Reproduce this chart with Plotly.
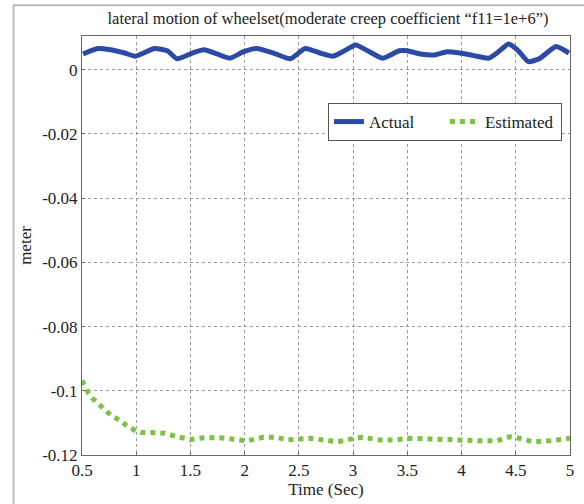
import plotly.graph_objects as go

# Actual lateral displacement (m)
t_actual = [0.51, 0.646, 0.765, 0.893, 0.994, 1.168, 1.287, 1.378, 1.534, 1.625, 1.744, 1.863,
            1.991, 2.110, 2.265, 2.421, 2.558, 2.695, 2.814, 2.905, 3.024, 3.134, 3.271, 3.427,
            3.5, 3.619, 3.747, 3.866, 3.985, 4.113, 4.25, 4.341, 4.433, 4.524, 4.616, 4.716,
            4.872, 4.99]
y_actual = [0.0049, 0.0066, 0.0062, 0.0052, 0.0042, 0.0066, 0.0059, 0.0034, 0.0054, 0.0062, 0.0049, 0.0036,
            0.0056, 0.0066, 0.0052, 0.0034, 0.0066, 0.0052, 0.0042, 0.0056, 0.0077, 0.0059, 0.0036, 0.0059,
            0.0059, 0.0049, 0.0046, 0.0056, 0.0052, 0.0044, 0.0036, 0.0056, 0.0080, 0.0059, 0.0025, 0.0034,
            0.0072, 0.0052]

# Estimated lateral displacement (m)
t_est = [0.5, 0.555, 0.601, 0.656, 0.710, 0.765, 0.848, 0.921, 0.994, 1.04, 1.131, 1.259, 1.378,
         1.497, 1.625, 1.771, 1.927, 2.018, 2.174, 2.293, 2.384, 2.476, 2.604, 2.722, 2.860,
         2.969, 3.088, 3.244, 3.390, 3.518, 3.710, 3.866, 4.021, 4.204, 4.323, 4.442, 4.533,
         4.661, 4.808, 4.963, 5.0]
y_est = [-0.0968, -0.1005, -0.1025, -0.1041, -0.1057, -0.1076, -0.1092, -0.1111, -0.1124, -0.1130,
         -0.1130, -0.1132, -0.1143, -0.1152, -0.1146, -0.1146, -0.1152, -0.1156, -0.1145, -0.1145,
         -0.1153, -0.1151, -0.1148, -0.1153, -0.1159, -0.1151, -0.1145, -0.1153, -0.1153, -0.1148,
         -0.1151, -0.1153, -0.1153, -0.1156, -0.1156, -0.1143, -0.1148, -0.1159, -0.1156, -0.1148,
         -0.1148]

x_ticks = [0.5, 1, 1.5, 2, 2.5, 3, 3.5, 4, 4.5, 5]
x_ticktext = ["0.5", "1", "1.5", "2", "2.5", "3", "3.5", "4", "4.5", "5"]
y_ticks = [0, -0.02, -0.04, -0.06, -0.08, -0.1, -0.12]
y_ticktext = ["0", "-0.02", "-0.04", "-0.06", "-0.08", "-0.1", "-0.12"]

FONT = "Liberation Serif, Times New Roman, serif"

fig = go.Figure()
fig.add_trace(go.Scatter(x=t_actual, y=y_actual, mode="lines", name="Actual",
                         line=dict(color="#2b4aa6", width=5, shape="spline", smoothing=0.5)))
fig.add_trace(go.Scatter(x=t_est, y=y_est, mode="lines", name="Estimated",
                         line=dict(color="#7cc242", width=5, dash="5px,5px")))

fig.update_layout(
    width=584, height=504,
    margin=dict(l=82, r=10, t=36, b=45),
    paper_bgcolor="white", plot_bgcolor="white",
    font=dict(family=FONT, size=17, color="#222"),
    title=dict(text="lateral motion of wheelset(moderate creep coefficient “f11=1e+6”)",
               x=(82 + 574) / 2 / 584, xanchor="center", y=1 - 18 / 504, yanchor="middle",
               font=dict(family=FONT, size=16.5, color="#222")),
    showlegend=True,
    legend=dict(orientation="h", x=0.504, y=0.84, xanchor="left", yanchor="top",
                bgcolor="white", bordercolor="#555", borderwidth=1,
                font=dict(family=FONT, size=17, color="#222"),
                entrywidth=71, entrywidthmode="pixels", tracegroupgap=0),
    shapes=[dict(type="rect", xref="paper", yref="paper",
                 x0=(13 - 82) / 492, x1=1.2, y0=-0.3, y1=(459 - 5) / 423,
                 line=dict(color="#bbbbbb", width=2), fillcolor="rgba(0,0,0,0)", layer="below")],
)

fig.update_xaxes(range=[0.5, 5], tickvals=x_ticks, ticktext=x_ticktext,
                 showgrid=True, gridcolor="#999", griddash="dot", gridwidth=1,
                 zeroline=False, showline=True, linecolor="#666", linewidth=1, mirror=True,
                 ticks="inside", ticklen=3, tickcolor="#666",
                 title=dict(text="Time (Sec)", standoff=2, font=dict(family=FONT, size=17)))
fig.update_yaxes(range=[-0.12, 0.0105], tickvals=y_ticks, ticktext=y_ticktext,
                 showgrid=True, gridcolor="#999", griddash="dot", gridwidth=1,
                 zeroline=False, showline=True, linecolor="#666", linewidth=1, mirror=True,
                 ticks="inside", ticklen=3, tickcolor="#666",
                 title=dict(text="meter", standoff=6, font=dict(family=FONT, size=17)))

fig.write_html("out.html")
